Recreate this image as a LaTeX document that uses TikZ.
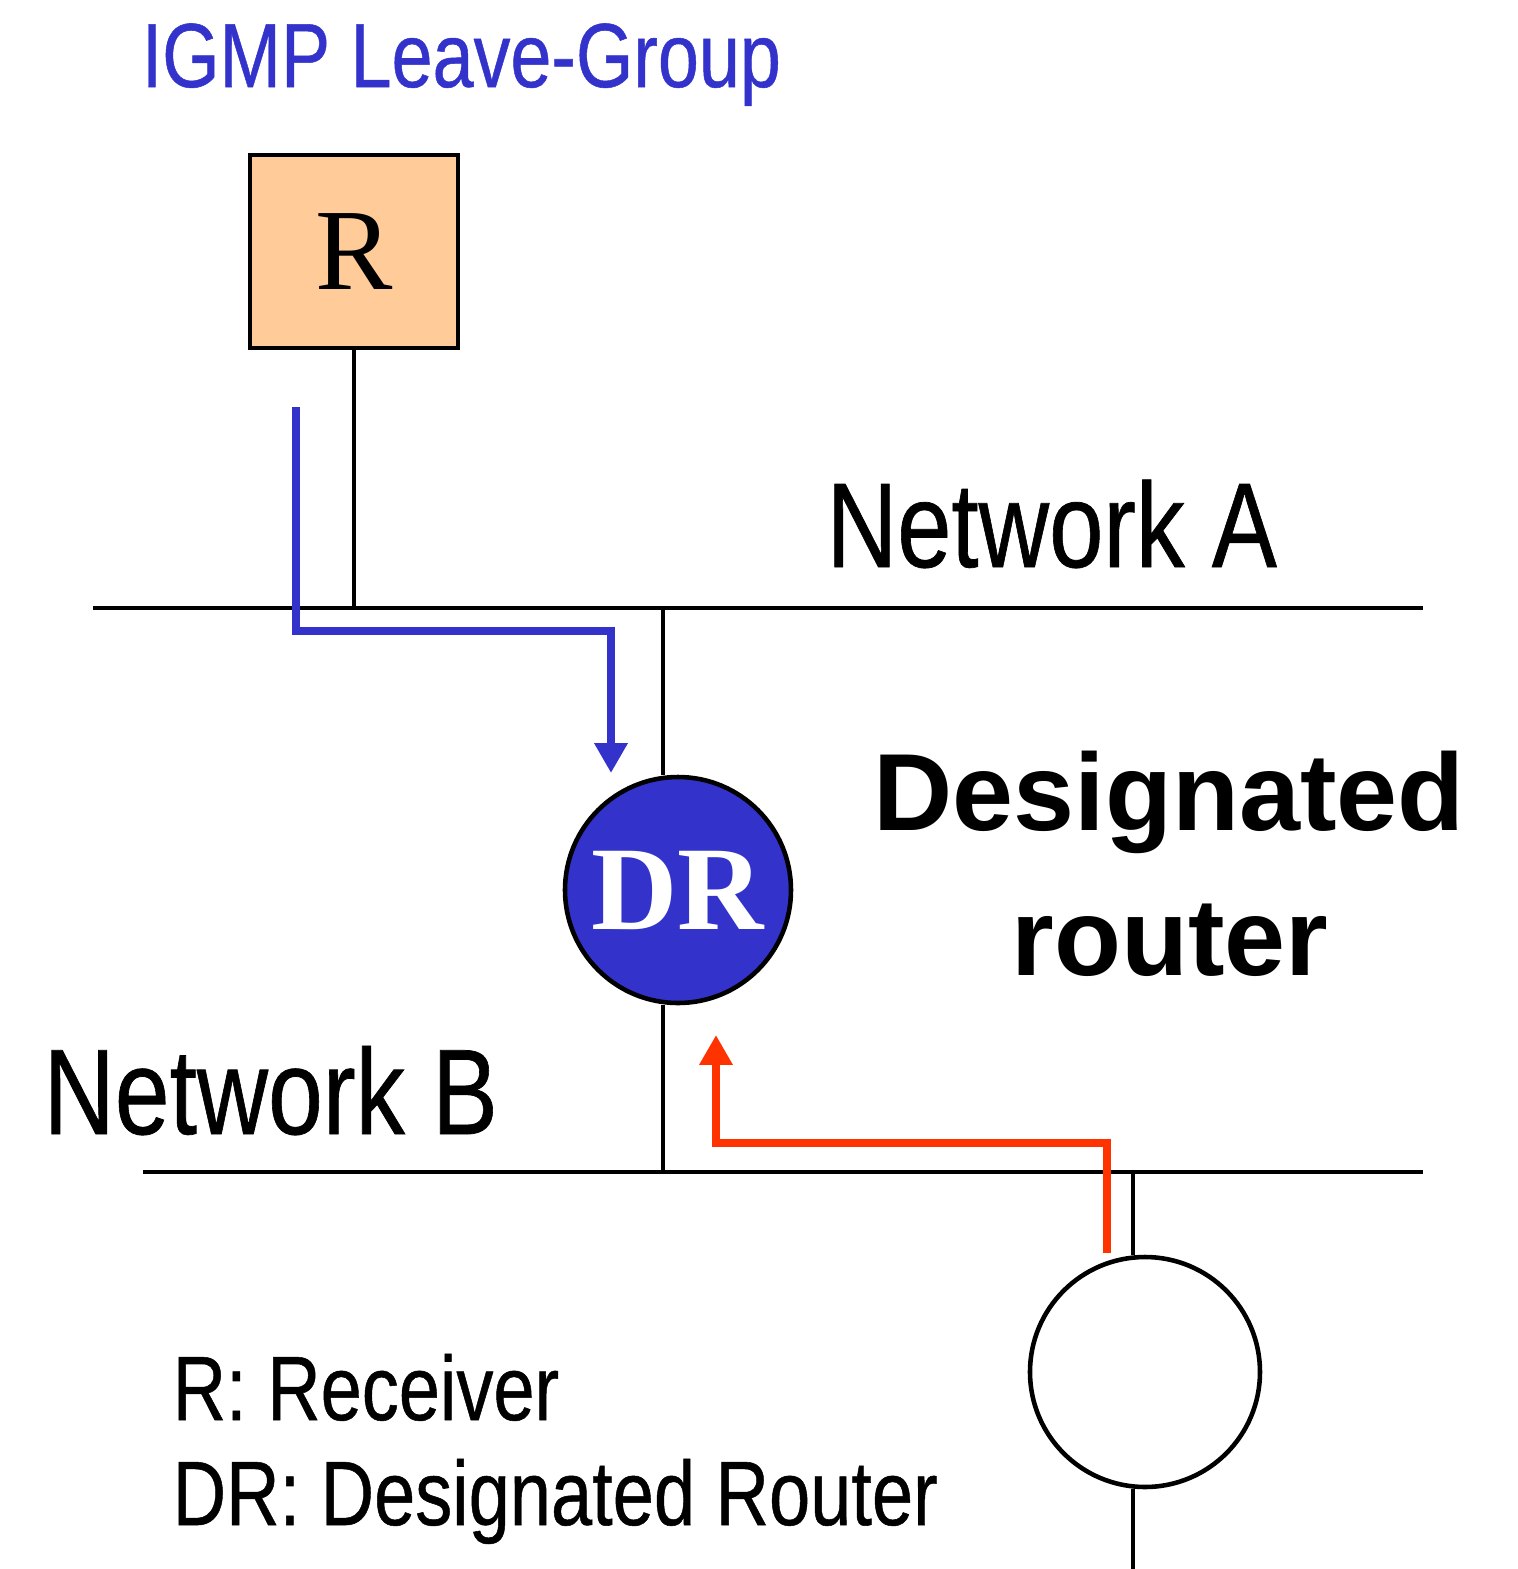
\documentclass[tikz,border=0pt]{standalone}
\usepackage{fontspec}
\setmainfont{Liberation Serif}
\setsansfont{Liberation Sans}
\newfontfamily\netfont[FakeBold=0.6]{Liberation Sans}
\usetikzlibrary{arrows.meta}
\definecolor{msgblue}{HTML}{3333CC}
\definecolor{msgred}{HTML}{FF3300}
\definecolor{peach}{HTML}{FFCC99}
\newcommand{\narrow}[1]{\scalebox{0.81}[1]{#1}}
\begin{document}
\begin{tikzpicture}[
  wire/.style={line width=1.3pt},
  msg/.style={line width=2.5pt,-{Triangle[width=9pt,length=8.5pt]}},
  lbl/.style={inner sep=0pt,anchor=base west},
  rbox/.style={draw,line width=1.3pt,fill=peach,minimum width=2.08cm,
    minimum height=1.93cm,inner sep=0pt,font=\fontsize{33pt}{33pt}\selectfont},
  rtr/.style={circle,draw,line width=1.3pt,inner sep=0pt}]
  \useasboundingbox (0,0) rectangle (15.17,-15.69);
  % receiver, designated router and host
  \node[rbox] (recv) at (3.54,-2.515) {R};
  \node[rtr,fill=msgblue,minimum size=2.26cm,text=white,
    font=\bfseries\fontsize{34pt}{34pt}\selectfont] (dr) at (6.78,-8.90) {DR};
  \node[rtr,minimum size=2.30cm] (host) at (11.45,-13.72) {};
  % labels
  \node[lbl,text=msgblue,font=\netfont\fontsize{25.9pt}{30pt}\selectfont]
    (title) at (1.41,-0.87) {\narrow{IGMP Leave-Group}};
  \node[lbl,font=\netfont\fontsize{34.3pt}{40pt}\selectfont]
    (netA) at (8.26,-5.67) {\narrow{Network A}};
  \node[lbl,font=\netfont\fontsize{34.6pt}{40pt}\selectfont]
    (netB) at (0.43,-11.34) {\narrow{Network B}};
  \node[inner sep=0pt,anchor=base,font=\sffamily\bfseries\fontsize{31.2pt}{36pt}\selectfont]
    (drname1) at (11.69,-8.30) {Designated};
  \node[inner sep=0pt,anchor=base,font=\sffamily\bfseries\fontsize{31.2pt}{36pt}\selectfont]
    (drname2) at (11.70,-9.75) {router};
  \node[lbl,font=\netfont\fontsize{26pt}{30pt}\selectfont]
    (legR) at (1.72,-14.20) {\narrow{R: Receiver}};
  \node[lbl,font=\netfont\fontsize{26pt}{30pt}\selectfont]
    (legDR) at (1.72,-15.25) {\narrow{DR: Designated Router}};
  % the two networks and their taps
  \coordinate (aW) at (0.93,-6.08); \coordinate (aE) at (14.23,-6.08);
  \coordinate (bW) at (1.43,-11.72); \coordinate (bE) at (14.23,-11.72);
  \coordinate (drA) at (6.63,-6.08); \coordinate (drB) at (6.63,-11.72);
  \coordinate (hostB) at (11.33,-11.72); \coordinate (foot) at (11.33,-15.69);
  \draw[wire] (aW) -- (aE);
  \draw[wire] (bW) -- (bE);
  \draw[wire] (recv.south) -- (recv.south |- aW);
  \draw[wire] (drA) -- (drA |- dr.north);
  \draw[wire] (drA |- dr.south) -- (drB);
  \draw[wire] (hostB) -- (hostB |- host.north);
  \draw[wire] (foot |- host.south) -- (foot);
  % messages
  \coordinate (leaveS) at (2.96,-4.07); \coordinate (leaveK) at (2.96,-6.31);
  \coordinate (leaveE) at (6.11,-7.73);
  \draw[msg,msgblue] (leaveS) -- (leaveK) -| (leaveE);
  \coordinate (hostS) at (11.07,-12.53); \coordinate (hostK) at (11.07,-11.43);
  \coordinate (hostE) at (7.16,-10.35);
  \draw[msg,msgred] (hostS) -- (hostK) -| (hostE);
\end{tikzpicture}
\end{document}
